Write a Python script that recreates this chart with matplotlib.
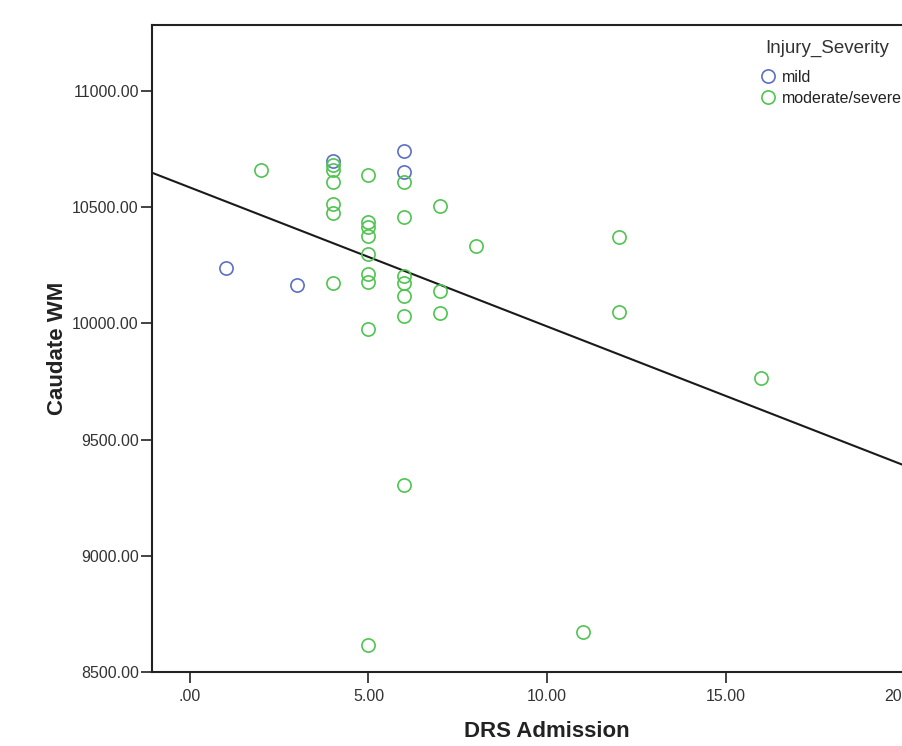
import numpy as np
import matplotlib
matplotlib.use("Agg")
import matplotlib.pyplot as plt
from matplotlib.ticker import FuncFormatter
from matplotlib.lines import Line2D

matplotlib.rcParams['font.family'] = ['Liberation Sans', 'DejaVu Sans']

# mild group
mild_drs = [1, 3, 4, 6, 6]
mild_wm = [10240, 10166, 10699, 10742, 10652]

# moderate/severe group
sev_drs = [2, 4, 4, 4, 4, 4, 4,
           5, 5, 5, 5, 5, 5, 5, 5, 5,
           6, 6, 6, 6, 6, 6, 6,
           7, 7, 7, 8, 11, 12, 12, 16]
sev_wm = [10660, 10682, 10662, 10609, 10514, 10476, 10175,
          10639, 10437, 10416, 10377, 10300, 10214, 10179, 9977, 8615,
          10609, 10459, 10203, 10175, 10119, 10033, 9303,
          10506, 10141, 10046, 10334, 8671, 10373, 10050, 9767]

# fit line (intercept, slope)
fit_b0 = 10585
fit_b1 = -59.8

x_ticks = [0, 5, 10, 15, 20]
y_ticks = [8500, 9000, 9500, 10000, 10500, 11000]

blue = '#5b6fc5'
green = '#50c450'

fig = plt.figure(figsize=(9.02, 7.46), dpi=100)
ax = fig.add_axes([152 / 902, 74 / 746, 788 / 902, 647 / 746])

ax.plot(mild_drs, mild_wm, 'o', mfc='none', mec=blue, ms=9.5, mew=1.2, zorder=3)
ax.plot(sev_drs, sev_wm, 'o', mfc='none', mec=green, ms=9.5, mew=1.2, zorder=3)

xl = np.array([-1.06, 21.0])
ax.plot(xl, fit_b0 + fit_b1 * xl, color='#1a1a1a', lw=1.5, zorder=2)

ax.set_xlim(-1.06, 21.0)
ax.set_ylim(8500, 11284)
ax.set_xticks(x_ticks)
ax.set_yticks(y_ticks)


def fmt(v, pos):
    s = f"{v:.2f}"
    if s.startswith("0."):
        s = s[1:]
    return s


ax.xaxis.set_major_formatter(FuncFormatter(fmt))
ax.yaxis.set_major_formatter(FuncFormatter(fmt))
ax.tick_params(axis='both', direction='out', length=8, width=1.2, colors='#222222',
               labelsize=11.5, labelcolor='#333333')
ax.tick_params(axis='x', pad=4)
ax.tick_params(axis='y', pad=1.5)

for side in ['left', 'bottom', 'top']:
    ax.spines[side].set_linewidth(1.5)
    ax.spines[side].set_color('#222222')
ax.spines['right'].set_visible(False)

ax.set_xlabel('DRS Admission', fontsize=16, fontweight='bold', color='#222222')
ax.set_ylabel('Caudate WM', fontsize=16, fontweight='bold', color='#222222')
ax.xaxis.set_label_coords((547 - 152) / 788, -49 / 647)
ax.yaxis.set_label_coords((68 - 152) / 788, 0.5)

# legend: title placed as its own text, entries below
fig.text(765 / 902, 1 - 48 / 746, 'Injury_Severity', fontsize=13.5, color='#333333',
         ha='left', va='center')
handles = [Line2D([], [], ls='none', marker='o', mfc='none', mec=blue, ms=9.5, mew=1.2),
           Line2D([], [], ls='none', marker='o', mfc='none', mec=green, ms=9.5, mew=1.2)]
leg = fig.legend(handles, ['mild', 'moderate/severe'],
                 loc='upper left', bbox_to_anchor=(758 / 902, 1 - 70 / 746),
                 frameon=False, fontsize=11.5, borderpad=0,
                 handletextpad=0.3, labelspacing=0.38, borderaxespad=0,
                 handlelength=1.2)
for t in leg.get_texts():
    t.set_color('#222222')

fig.savefig('out.png', dpi=100)
